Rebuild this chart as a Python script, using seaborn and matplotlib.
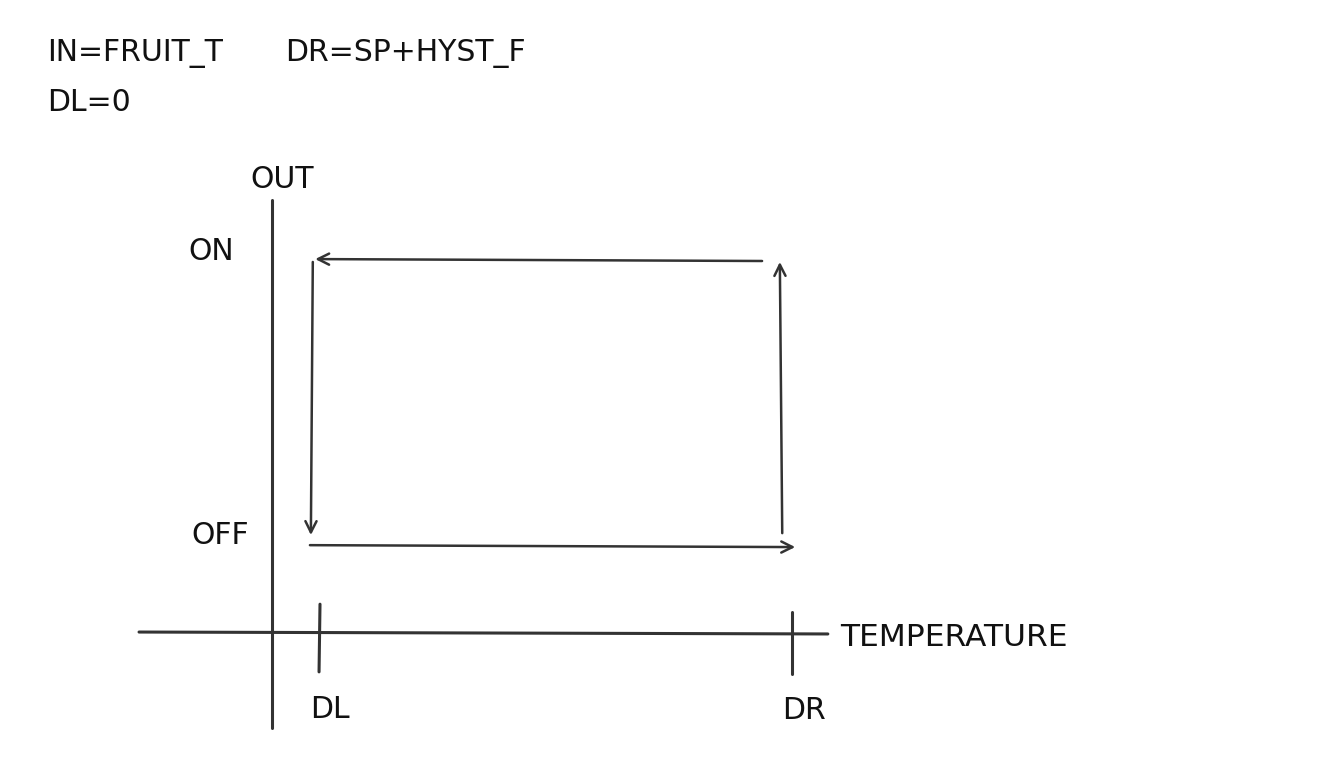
import pandas as pd
import matplotlib
matplotlib.use('Agg')
import matplotlib.pyplot as plt
import seaborn as sns

# diagram units: origin where the axes cross, one unit = one DL step
dl_pos = 1.0
dr_pos = 10.83
off_level = 1.81
on_level = 7.77

# hysteresis loop arrows (start x, start y, end x, end y), hand drawn so a bit off
loop_x0 = [10.21, 0.85, 0.79, 10.63]
loop_y0 = [7.75, 7.73, 1.83, 2.08]
loop_x1 = [0.90, 0.81, 10.90, 10.58]
loop_y1 = [7.79, 2.04, 1.79, 7.73]

# axis and tick segments
seg_names = ['x_axis', 'x_axis', 'y_axis', 'y_axis', 'tick_dl', 'tick_dl', 'tick_dr', 'tick_dr']
seg_x = [-2.77, 11.58, 0.0, 0.0, dl_pos, dl_pos - 0.02, dr_pos, dr_pos]
seg_y = [0.02, -0.02, 9.02, -1.98, 0.60, -0.81, 0.44, -0.85]

header_1 = 'IN=FRUIT_T'
header_2 = 'DR=SP+HYST_F'
header_3 = 'DL=0'

sns.set_theme(style='white')
plt.rcParams['font.family'] = ['DejaVu Sans']
line_col = '#333333'
text_col = '#111111'

fig = plt.figure(figsize=(13.23, 7.69), dpi=100)
ax = fig.add_axes([0, 0, 1, 1])
ax.set_xlim(-272 / 48, (1323 - 272) / 48)
ax.set_ylim((633 - 769) / 48, 633 / 48)
ax.axis('off')

segs = pd.DataFrame({'seg': seg_names, 'x': seg_x, 'y': seg_y})
sns.lineplot(data=segs, x='x', y='y', units='seg', estimator=None, sort=False,
             color=line_col, linewidth=2.2, ax=ax, legend=False)

for x0, y0, x1, y1 in zip(loop_x0, loop_y0, loop_x1, loop_y1):
    ax.annotate('', xy=(x1, y1), xytext=(x0, y0),
                arrowprops=dict(arrowstyle='->', color=line_col, lw=1.8,
                                mutation_scale=20, shrinkA=0, shrinkB=0))

fs = 21.5
ax.text(-4.69, 12.08, header_1, fontsize=fs, color=text_col, ha='left', va='center')
ax.text(0.27, 12.08, header_2, fontsize=fs, color=text_col, ha='left', va='center')
ax.text(-4.69, 11.06, header_3, fontsize=fs, color=text_col, ha='left', va='center')
ax.text(0.21, 9.44, 'OUT', fontsize=fs, color=text_col, ha='center', va='center')
ax.text(-1.27, on_level + 0.17, 'ON', fontsize=fs, color=text_col, ha='center', va='center')
ax.text(-1.08, off_level + 0.23, 'OFF', fontsize=fs, color=text_col, ha='center', va='center')
ax.text(dl_pos + 0.21, -1.60, 'DL', fontsize=fs, color=text_col, ha='center', va='center')
ax.text(dr_pos + 0.25, -1.62, 'DR', fontsize=fs, color=text_col, ha='center', va='center')
ax.text(11.83, -0.10, 'TEMPERATURE', fontsize=22.5, color=text_col, ha='left', va='center')

plt.savefig('out.png', dpi=100, facecolor='white')
